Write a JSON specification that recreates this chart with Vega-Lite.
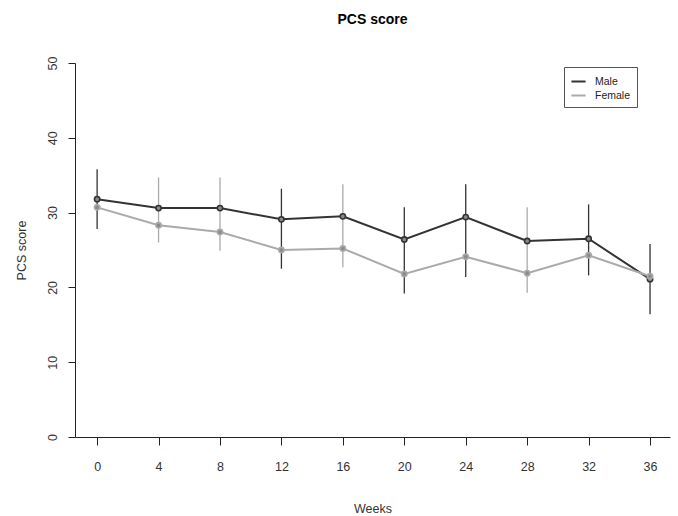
{
  "$schema": "https://vega.github.io/schema/vega-lite/v6.json",
  "autosize": "none",
  "width": 595,
  "height": 374,
  "padding": {"left": 75, "top": 63, "right": 8, "bottom": 79},
  "background": "white",
  "config": {
    "font": "Liberation Sans",
    "view": {"stroke": null},
    "axis": {"grid": false, "domainColor": "#222", "tickColor": "#222", "labelColor": "#333", "titleColor": "#333", "labelFont": "Liberation Sans", "titleFont": "Liberation Sans", "titleFontWeight": "normal", "labelFontSize": 12.5, "titleFontSize": 12.5}
  },
  "title": {"text": "PCS score", "fontSize": 14, "fontWeight": "bold", "color": "#000", "anchor": "middle", "baseline": "bottom", "offset": 15, "font": "Liberation Sans"},
  "datasets": {
    "means": [
      {"week": 0, "sex": "Male", "score": 31.8},
      {"week": 4, "sex": "Male", "score": 30.6},
      {"week": 8, "sex": "Male", "score": 30.6},
      {"week": 12, "sex": "Male", "score": 29.1},
      {"week": 16, "sex": "Male", "score": 29.5},
      {"week": 20, "sex": "Male", "score": 26.4},
      {"week": 24, "sex": "Male", "score": 29.4},
      {"week": 28, "sex": "Male", "score": 26.2},
      {"week": 32, "sex": "Male", "score": 26.5},
      {"week": 36, "sex": "Male", "score": 21.1},
      {"week": 0, "sex": "Female", "score": 30.7},
      {"week": 4, "sex": "Female", "score": 28.3},
      {"week": 8, "sex": "Female", "score": 27.4},
      {"week": 12, "sex": "Female", "score": 25.0},
      {"week": 16, "sex": "Female", "score": 25.2},
      {"week": 20, "sex": "Female", "score": 21.8},
      {"week": 24, "sex": "Female", "score": 24.1},
      {"week": 28, "sex": "Female", "score": 21.9},
      {"week": 32, "sex": "Female", "score": 24.3},
      {"week": 36, "sex": "Female", "score": 21.5}
    ],
    "bars": [
      {"week": 0, "sex": "Male", "lo": 27.8, "hi": 35.8},
      {"week": 4, "sex": "Female", "lo": 26.0, "hi": 34.7},
      {"week": 8, "sex": "Female", "lo": 24.9, "hi": 34.7},
      {"week": 12, "sex": "Male", "lo": 22.5, "hi": 33.2},
      {"week": 16, "sex": "Female", "lo": 22.7, "hi": 33.8},
      {"week": 20, "sex": "Male", "lo": 19.2, "hi": 30.7},
      {"week": 24, "sex": "Male", "lo": 21.4, "hi": 33.8},
      {"week": 28, "sex": "Female", "lo": 19.3, "hi": 30.7},
      {"week": 32, "sex": "Male", "lo": 21.6, "hi": 31.1},
      {"week": 36, "sex": "Male", "lo": 16.4, "hi": 25.8}
    ]
  },
  "encoding": {
    "x": {"field": "week", "type": "quantitative",
      "scale": {"domain": [-1.44, 37.3], "nice": false, "zero": false},
      "axis": {"values": [0, 4, 8, 12, 16, 20, 24, 28, 32, 36], "title": "Weeks", "tickSize": 8, "labelPadding": 15, "titlePadding": 30, "labelFlush": false}
    }
  },
  "layer": [
    {
      "data": {"name": "bars"},
      "mark": {"type": "rule", "strokeWidth": 1.3},
      "encoding": {
        "y": {"field": "lo", "type": "quantitative", "scale": {"domain": [0, 50], "nice": false},
          "axis": {"values": [0, 10, 20, 30, 40, 50], "title": "PCS score", "tickSize": 7, "labelAngle": -90, "labelAlign": "center", "labelBaseline": "bottom", "labelPadding": 9, "titlePadding": 18}},
        "y2": {"field": "hi"},
        "color": {"field": "sex", "type": "nominal"}
      }
    },
    {
      "data": {"name": "means"},
      "mark": {"type": "line", "strokeWidth": 2},
      "encoding": {
        "y": {"field": "score", "type": "quantitative"},
        "color": {"field": "sex", "type": "nominal",
          "scale": {"domain": ["Male", "Female"], "range": ["#333333", "#aaaaaa"]},
          "legend": {"title": null, "orient": "none", "legendX": 489, "legendY": 4, "strokeColor": "#555", "padding": 6, "symbolType": "stroke", "symbolStrokeWidth": 2, "symbolSize": 200, "labelFontSize": 10.5, "labelColor": "#222", "labelFont": "Liberation Sans", "rowPadding": 0, "labelOffset": 8, "cornerRadius": 0}
        }
      }
    },
    {
      "data": {"name": "means"},
      "mark": {"type": "point", "filled": false, "fill": "#8a8a8a", "fillOpacity": 1, "size": 28, "strokeWidth": 1.6},
      "encoding": {
        "y": {"field": "score", "type": "quantitative"},
        "color": {"field": "sex", "type": "nominal"}
      }
    }
  ]
}
